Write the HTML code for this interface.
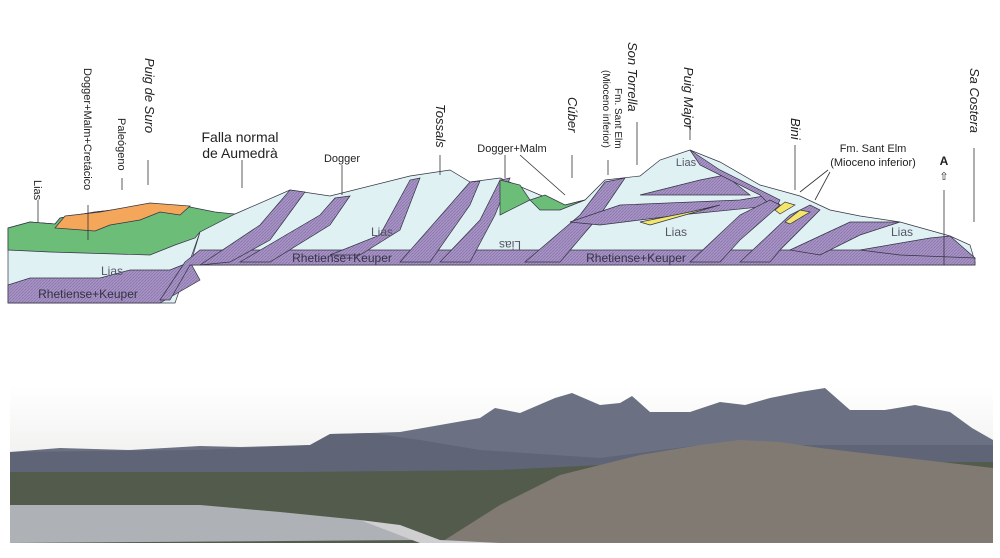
<!DOCTYPE html>
<html><head><meta charset="utf-8"><style>
html,body{margin:0;padding:0;background:#fff;}
svg{display:block}
text{font-family:"Liberation Sans",sans-serif;fill:#222}
.it{font-style:italic}
</style></head><body>
<svg width="1000" height="558" viewBox="0 0 1000 558" xmlns="http://www.w3.org/2000/svg">
<defs>
<pattern id="hp" width="3" height="3" patternUnits="userSpaceOnUse">
<rect width="3" height="3" fill="#a894c6"/><path d="M0 3L3 0" stroke="#8a76a8" stroke-width="0.8"/>
</pattern>
<linearGradient id="sky" x1="0" y1="0" x2="0" y2="1">
<stop offset="0" stop-color="#fff"/><stop offset="0.45" stop-color="#f1f2f0"/><stop offset="1" stop-color="#ece4d2"/>
</linearGradient>
</defs>
<g stroke="#334" stroke-width="0.7">
<!-- left block -->
<polygon points="8,228 30,222 55,224 60,218 95,212 150,206 190,207 210,215 200,232 175,303 8,303" fill="#e0f1f3"/>
<polygon points="8,228 30,222 55,224 60,218 95,212 150,206 190,207 215,212 235,214 225,232 200,232 195,238 175,245 150,255 50,252 8,250" fill="#6cbd78"/>
<polygon points="55,228 65,216 100,212 150,203 190,206 180,215 160,212 140,220 110,225 95,231" fill="#f4a65a"/>
<polygon points="8,285 30,278 100,278 130,270 170,270 190,262 200,280 160,303 8,303" fill="url(#hp)"/>
<!-- main body -->
<polygon points="190,265 200,232 235,214 290,190 330,196 410,176 450,170 470,182 500,178 540,195 565,205 585,200 605,180 640,176 660,160 690,150 720,162 760,185 800,196 830,210 860,216 900,222 950,236 970,245 975,262 975,265" fill="#e0f1f3"/>
<polygon points="170,300 190,265 975,265 975,258 960,250 200,250 185,262 160,300" fill="url(#hp)"/>
<polygon points="200,265 260,225 290,190 305,192 270,240 230,262" fill="url(#hp)"/>
<polygon points="240,262 320,215 335,198 350,196 330,225 270,262" fill="url(#hp)"/>
<polygon points="330,255 380,235 410,180 420,178 400,230 360,255" fill="url(#hp)"/>
<polygon points="400,262 450,205 470,182 480,181 470,205 430,262" fill="url(#hp)"/>
<polygon points="440,262 480,220 500,180 510,178 495,215 470,262" fill="url(#hp)"/>
<polygon points="500,180 520,185 530,200 500,215" fill="#6cbd78"/>
<polygon points="530,200 545,195 565,205 585,200 560,210 540,210" fill="#6cbd78"/>
<polygon points="525,262 580,215 605,182 625,178 600,215 560,262" fill="url(#hp)"/>
<polygon points="570,222 620,205 740,200 770,195 780,205 680,215 600,225" fill="url(#hp)"/>
<polygon points="640,195 700,180 725,175 750,195 700,195" fill="url(#hp)"/>
<polygon points="690,150 720,170 780,200 775,210 760,195 700,165" fill="url(#hp)"/>
<polygon points="650,225 720,205 690,212 640,222" fill="#f3e66a"/>
<polygon points="690,262 740,215 770,200 780,205 740,240 720,262" fill="url(#hp)"/>
<polygon points="740,262 790,215 810,205 820,210 780,250 770,262" fill="url(#hp)"/>
<polygon points="790,250 850,222 900,222 860,235 820,255" fill="url(#hp)"/>
<polygon points="860,250 930,238 950,236 975,258 900,255" fill="url(#hp)"/>
<polygon points="775,210 785,202 795,205 780,214" fill="#f3e66a"/>
<polygon points="785,222 800,210 810,212 790,224" fill="#f3e66a"/>
</g>
<g stroke="#333" stroke-width="0.8" fill="none">
<line x1="38" y1="200" x2="38" y2="222"/><line x1="88" y1="205" x2="88" y2="240"/><line x1="122" y1="178" x2="122" y2="190"/>
<line x1="148" y1="160" x2="148" y2="185"/><line x1="242" y1="160" x2="242" y2="188"/><line x1="342" y1="165" x2="342" y2="195"/>
<line x1="440" y1="155" x2="440" y2="175"/><line x1="505" y1="155" x2="505" y2="178"/><line x1="520" y1="155" x2="565" y2="195"/>
<line x1="572" y1="155" x2="572" y2="178"/><line x1="608" y1="160" x2="608" y2="175"/><line x1="637" y1="122" x2="637" y2="165"/>
<line x1="690" y1="120" x2="690" y2="140"/><line x1="795" y1="145" x2="795" y2="190"/><line x1="828" y1="170" x2="800" y2="192"/>
<line x1="830" y1="172" x2="815" y2="200"/><line x1="944" y1="190" x2="944" y2="265"/><line x1="974" y1="148" x2="974" y2="222"/>
</g>
<text x="240" y="142" font-size="14" text-anchor="middle">Falla normal</text>
<text x="240" y="158" font-size="14" text-anchor="middle">de Aumedrà</text>
<text x="342" y="162" font-size="11" text-anchor="middle">Dogger</text>
<text x="512" y="152" font-size="11" text-anchor="middle">Dogger+Malm</text>
<text x="873" y="152" font-size="11" text-anchor="middle">Fm. Sant Elm</text>
<text x="873" y="166" font-size="11" text-anchor="middle">(Mioceno inferior)</text>
<text x="944" y="165" font-size="12" font-weight="bold" text-anchor="middle">A</text>
<text x="944" y="180" font-size="11" text-anchor="middle">⇧</text>
<text x="112" y="275" font-size="12" text-anchor="middle" style="fill:#556">Lias</text>
<text x="88" y="298" font-size="12" text-anchor="middle" style="fill:#334">Rhetiense+Keuper</text>
<text x="342" y="262" font-size="12" text-anchor="middle" style="fill:#334">Rhetiense+Keuper</text>
<text x="636" y="262" font-size="12" text-anchor="middle" style="fill:#334">Rhetiense+Keuper</text>
<text x="382" y="236" font-size="12" text-anchor="middle" style="fill:#556">Lias</text>
<text x="676" y="236" font-size="12" text-anchor="middle" style="fill:#556">Lias</text>
<text x="902" y="236" font-size="12" text-anchor="middle" style="fill:#556">Lias</text>
<text x="686" y="166" font-size="11" text-anchor="middle" style="fill:#556">Lias</text>
<text x="510" y="233" font-size="12" text-anchor="middle" style="fill:#556" transform="rotate(180 510 237)">Lias</text>
<g font-size="11">
<text transform="translate(34,180) rotate(90)">Lias</text>
<text transform="translate(84,68) rotate(90)">Dogger+Malm+Cretácico</text>
<text transform="translate(118,118) rotate(90)">Paleógeno</text>
<text class="it" font-size="13" transform="translate(145,58) rotate(90)">Puig de Suro</text>
<text class="it" font-size="13" transform="translate(436,104) rotate(90)">Tossals</text>
<text class="it" font-size="13" transform="translate(568,97) rotate(90)">Cúber</text>
<text font-size="10" transform="translate(603,70) rotate(90)">(Mioceno inferior)</text>
<text font-size="10" transform="translate(615,88) rotate(90)">Fm. Sant Elm</text>
<text class="it" font-size="13" transform="translate(628,42) rotate(90)">Son Torrella</text>
<text class="it" font-size="13" transform="translate(684,67) rotate(90)">Puig Major</text>
<text class="it" font-size="13" transform="translate(791,118) rotate(90)">Bini</text>
<text class="it" font-size="13" transform="translate(970,68) rotate(90)">Sa Costera</text>
</g>
<!-- photo -->
<rect x="10" y="385" width="983" height="158" fill="url(#sky)"/>
<polygon points="10,452 60,448 130,450 200,446 240,447 310,445 330,434 370,433 400,432 440,425 480,418 495,408 520,413 555,398 572,393 600,405 620,403 632,396 650,412 690,412 720,402 745,405 770,398 800,392 825,388 850,410 885,410 915,405 950,412 972,428 993,440 993,543 10,543" fill="#6b7182"/>
<polygon points="10,452 200,450 310,445 330,434 370,433 420,440 480,450 600,458 700,445 993,445 993,543 10,543" fill="#5a6070" opacity="0.7"/>
<polygon points="10,472 300,472 500,470 620,464 993,462 993,543 10,543" fill="#535c4c"/>
<polygon points="10,505 200,505 280,512 360,520 420,540 10,543" fill="#aeb2b6"/>
<polygon points="440,543 500,505 560,475 640,455 700,445 740,440 780,442 820,448 880,455 993,468 993,543" fill="#807a73"/>
<polygon points="360,520 400,525 440,540 500,543 420,543" fill="#cfcfd2"/>
</svg>
</body></html>
